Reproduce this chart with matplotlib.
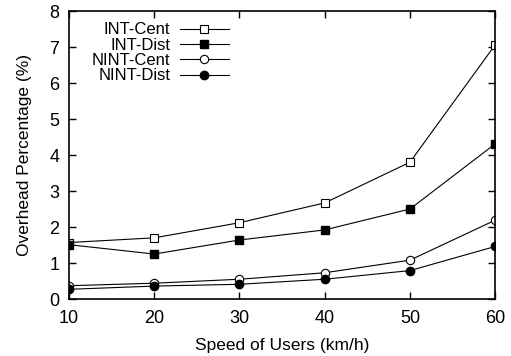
import matplotlib.pyplot as plt

plt.rcParams['font.family'] = ['Liberation Sans', 'DejaVu Sans']

speeds = [10, 20, 30, 40, 50, 60]
int_cent = [1.57, 1.70, 2.12, 2.67, 3.80, 7.06]
int_dist = [1.51, 1.25, 1.64, 1.92, 2.50, 4.31]
nint_cent = [0.37, 0.44, 0.55, 0.73, 1.08, 2.19]
nint_dist = [0.27, 0.36, 0.41, 0.55, 0.79, 1.46]

fig = plt.figure(figsize=(5.11, 3.56), dpi=100)
ax = fig.add_axes([0.135, 0.160, 0.834, 0.809])

lw = 0.8
ax.plot(speeds, int_cent, '-', color='black', lw=lw, marker='s', ms=6,
        mfc='white', mec='black', mew=0.8, label='INT-Cent')
ax.plot(speeds, int_dist, '-', color='black', lw=lw, marker='s', ms=6,
        mfc='black', mec='black', label='INT-Dist')
ax.plot(speeds, nint_cent, '-', color='black', lw=lw, marker='o', ms=6,
        mfc='white', mec='black', mew=0.8, label='NINT-Cent')
ax.plot(speeds, nint_dist, '-', color='black', lw=lw, marker='o', ms=6,
        mfc='black', mec='black', label='NINT-Dist')

ax.set_xlim(10, 60)
ax.set_ylim(0, 8)
ax.set_xticks(speeds)
ax.set_yticks(range(0, 9))
ax.tick_params(direction='in', top=True, right=True, length=5, width=1,
               labelsize=13)
ax.tick_params(axis='x', pad=8)
ax.tick_params(axis='y', pad=7)
for s in ax.spines.values():
    s.set_linewidth(1.2)

ax.set_xlabel('Speed of Users (km/h)', fontsize=12.5, labelpad=8)
ax.set_ylabel('Overhead Percentage (%)', fontsize=12.5, labelpad=12)

ax.legend(loc='upper left', bbox_to_anchor=(0.03, 0.995), frameon=False,
          markerfirst=False, fontsize=12, handlelength=2.9,
          labelspacing=0.02, handletextpad=0.6, borderaxespad=0.2)

fig.savefig('out.png', dpi=100)
